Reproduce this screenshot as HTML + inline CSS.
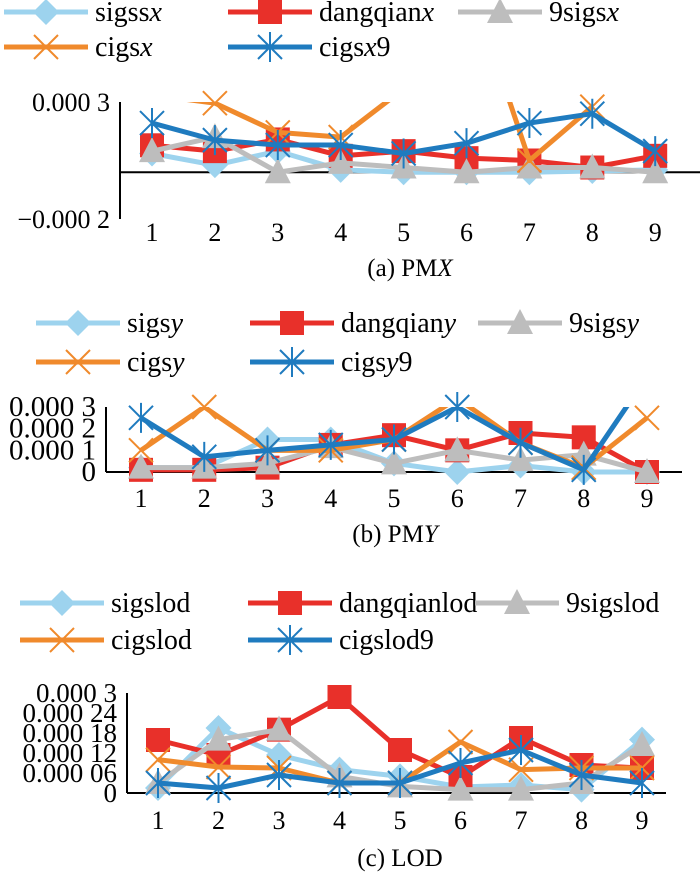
<!DOCTYPE html>
<html><head><meta charset="utf-8"><style>
body{margin:0;background:#fff;width:700px;height:885px;overflow:hidden}
svg{display:block}
text{font-family:"Liberation Serif",serif;fill:#000}
</style></head><body>
<svg id="c" width="700" height="885"></svg>
<script>
const categories=["1","2","3","4","5","6","7","8","9"];
const aSigs=[0.00008,0.00003,0.00009,0.00001,0,0,0,0.000005,0.00001];
const aDang=[0.000115,0.00009,0.00014,0.00007,0.00009,0.00006,0.00005,0.00002,0.00007];
const aNine=[0.00009,0.00015,0,0.00004,0.00002,0,0.00002,0.00002,0];
const aCigs=[0.00033,0.000295,0.00017,0.00015,0.000356,0.00085,0.00005,0.00028,null];
const aCig9=[0.00021,0.000137,0.000116,0.000116,0.00008,0.000124,0.00021,0.00025,0.00009];
const bSigs=[0.00002,0.00002,0.00015,0.00015,0.00004,0,0.00003,0,0];
const bDang=[0.00001,0.00001,0.00002,0.000125,0.00017,0.0001,0.00018,0.00016,0];
const bNine=[0.00002,0.00002,0.00004,0.000115,0.00004,0.0001,0.000055,0.00008,0];
const bCigs=[0.0001,0.0003,0.0001,0.0001,0.00015,0.00034,0.000135,0.00002,0.00025];
const bCig9=[0.00025,0.00007,0.0001,0.000125,0.00015,0.0003,0.000135,0.00001,0.00044];
const cSigs=[0.000015,0.000195,0.000114,0.00007,0.00005,0.000018,0.000024,0.00001,0.00016];
const cDang=[0.000159,0.000114,0.00019,0.000288,0.000129,0.000048,0.000165,0.000084,0.000075];
const cNine=[0.00003,0.00016,0.00019,0.00005,0.00002,0.00001,0.00001,0.00003,0.000144];
const cCigs=[0.0001,0.000078,0.000075,0.00003,0.00003,0.000153,0.00007,0.000075,0.000075];
const cCig9=[0.00003,0.000015,0.000054,0.00003,0.00003,0.00009,0.000129,0.000054,0.00003];
const aTicks=["0.000 3","\u22120.000 2"];
const bTicks=["0.000 3","0.000 2","0.000 1","0"];
const cTicks=["0.000 3","0.000 24","0.000 18","0.000 12","0.000 06","0"];
const COL={sigs:"#9dd3ee",dang:"#e8302a",nine:"#bdbdbd",cigs:"#f08a2c",cig9:"#1f7bbf"};
const NS="http://www.w3.org/2000/svg";
const svg=document.getElementById('c');
function mk(t,a,p){const e=document.createElementNS(NS,t);for(const k in a)e.setAttribute(k,a[k]);(p||svg).appendChild(e);return e;}
function marker(kind,x,y,g){
  let e;
  if(kind==='sigs'){e=mk('polygon',{points:`${x},${y-13} ${x+13},${y} ${x},${y+13} ${x-13},${y}`,fill:COL.sigs},g);}
  else if(kind==='dang'){e=mk('rect',{x:x-12,y:y-12,width:24,height:24,fill:COL.dang},g);}
  else if(kind==='nine'){e=mk('polygon',{points:`${x},${y-14} ${x+13},${y+11} ${x-13},${y+11}`,fill:COL.nine},g);}
  else if(kind==='cigs'){e=mk('path',{d:`M${x-12},${y-12}L${x+12},${y+12}M${x+12},${y-12}L${x-12},${y+12}`,stroke:COL.cigs,'stroke-width':2,fill:'none'},g);}
  else {e=mk('path',{d:`M${x-12},${y-12}L${x+12},${y+12}M${x+12},${y-12}L${x-12},${y+12}M${x},${y-15}L${x},${y+15}`,stroke:COL.cig9,'stroke-width':2,fill:'none'},g);}
  return e;
}
function panel(id,cfg,series){
  const yS=v=>cfg.y0-(v-cfg.vmin)/(cfg.vmax-cfg.vmin)*(cfg.y0-cfg.y1);
  const xS=i=>cfg.x0+i*cfg.step;
  const g=mk('g',{});
  
  
  const yax=mk('line',{x1:cfg.ax,x2:cfg.ax,y1:cfg.y1,y2:cfg.y0,stroke:'#000','stroke-width':2},g);
  
  
  const zy=yS(0);
  const xax=mk('line',{x1:cfg.ax,x2:cfg.axEnd,y1:zy,y2:zy,stroke:'#000','stroke-width':2},g);
  
  
  cfg.ticks.forEach((t,i)=>{
    const v=cfg.tickVals[i];
    const tx=mk('text',{x:cfg.ax-10,y:yS(v)+9,'text-anchor':'end','font-size':cfg.tfs},g);
    tx.textContent=t;
    
    
  });
  categories.forEach((c,i)=>{
    const tx=mk('text',{x:xS(i),y:cfg.labY,'text-anchor':'middle','font-size':26},g);
    tx.textContent=c;
    
    
  });
  const cp=mk('clipPath',{id:id+'clip'},g);
  mk('rect',{x:cfg.ax,y:cfg.y1,width:700,height:cfg.y0-cfg.y1+20},cp);
  series.forEach(([kind,vals])=>{
    let d='';let pen=false;
    vals.forEach((v,i)=>{if(v===null){pen=false;return;}d+=(pen?'L':'M')+xS(i)+','+yS(v);pen=true;});
    const p=mk('path',{d:d,stroke:COL[kind],'stroke-width':5,fill:'none','stroke-linejoin':'round','clip-path':`url(#${id}clip)`},g);
    
    
    vals.forEach((v,i)=>{
      if(v===null||v>cfg.vmax*1.01)return;
      const m=marker(kind,xS(i),yS(v),g);
      
      
    });
  });
  const cap=mk('text',{x:cfg.capX,y:cfg.capY,'text-anchor':'middle','font-size':25},g);
  cap.innerHTML=cfg.cap;
  
  
}
function legend(id,rows,cols,names){
  const kinds=['sigs','dang','nine','cigs','cig9'];
  kinds.forEach((k,i)=>{
    const r=i<3?0:1,c=i%3;
    const y=rows[r],x=cols[c];
    const g=mk('g',{});
    
    
    mk('line',{x1:x,x2:x+84,y1:y,y2:y,stroke:COL[k],'stroke-width':5},g);
    marker(k,x+42,y,g);
    const t=mk('text',{x:x+91,y:y+9,'font-size':28},g);
    t.innerHTML=names[i];
  });
}
legend('a',[12,47],[4,228,458],['sigss<tspan font-style="italic">x</tspan>','dangqian<tspan font-style="italic">x</tspan>','9sigs<tspan font-style="italic">x</tspan>','cigs<tspan font-style="italic">x</tspan>','cigs<tspan font-style="italic">x</tspan>9']);
panel('a',{vmin:-0.0002,vmax:0.0003,y0:219,y1:102,ax:120,axEnd:700,x0:152,step:62.9,ticks:aTicks,tickVals:[0.0003,-0.0002],tfs:26,labY:241,capX:410,capY:276,cap:'(a) PM<tspan font-style="italic">X</tspan>'},
 [['sigs',aSigs],['dang',aDang],['nine',aNine],['cigs',aCigs],['cig9',aCig9]]);
legend('b',[323,362],[36,250,478],['sigs<tspan font-style="italic">y</tspan>','dangqian<tspan font-style="italic">y</tspan>','9sigs<tspan font-style="italic">y</tspan>','cigs<tspan font-style="italic">y</tspan>','cigs<tspan font-style="italic">y</tspan>9']);
panel('b',{vmin:0,vmax:0.0003,y0:472,y1:407,ax:106,axEnd:682,x0:141,step:63.25,ticks:bTicks,tickVals:[0.0003,0.0002,0.0001,0],tfs:29,labY:507,capX:395,capY:542,cap:'(b) PM<tspan font-style="italic">Y</tspan>'},
 [['sigs',bSigs],['dang',bDang],['nine',bNine],['cigs',bCigs],['cig9',bCig9]]);
legend('c',[603,640],[20,248,475],['sigslod','dangqianlod','9sigslod','cigslod','cigslod9']);
panel('c',{vmin:0,vmax:0.0003,y0:793,y1:693,ax:127,axEnd:666,x0:158,step:60.5,ticks:cTicks,tickVals:[0.0003,0.00024,0.00018,0.00012,0.00006,0],tfs:27,labY:829,capX:400,capY:866,cap:'(c) LOD'},
 [['sigs',cSigs],['dang',cDang],['nine',cNine],['cigs',cCigs],['cig9',cCig9]]);
</script>
</body></html>
